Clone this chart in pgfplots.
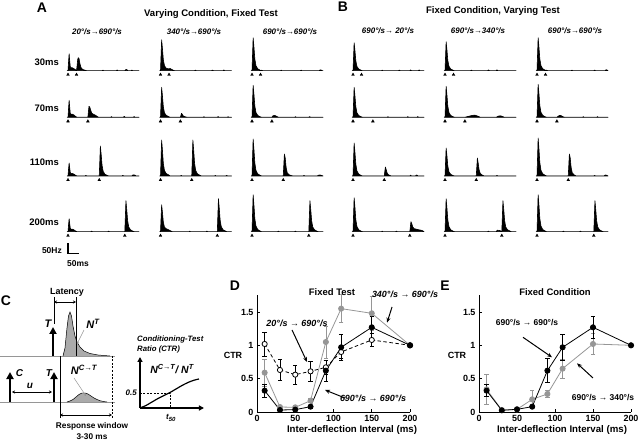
\documentclass[border=0pt]{standalone}
\usepackage{fontspec}
\setmainfont{Liberation Sans}
\usepackage{pgfplots}
\pgfplotsset{compat=1.18}
\usetikzlibrary{arrows.meta}
\definecolor{mgray}{RGB}{150,150,150}
\definecolor{fgray}{RGB}{170,170,170}
\newcommand{\fs}[1]{\fontsize{#1}{#1}\selectfont}
\pgfplotsset{
  psth/.style={scale only axis, width=71bp, height=40bp, xmin=0, xmax=250, ymin=0, ymax=40, hide axis, clip=false, anchor=south west},
  hist/.style={fill=black, draw=black, line width=0.6pt, line join=round},
  tri/.style={only marks, mark=triangle*, mark size=1.6bp, black},
  ctr/.style={scale only axis, width=153bp, height=116.7bp, anchor=south west,
    xmin=0, xmax=200, ymin=0, ymax=1.75, axis x line*=bottom, axis y line*=left,
    xtick={0,50,100,150,200}, ytick={0,0.5,1,1.5}, yticklabels={0,0.5,1,1.5},
    tick align=inside, major tick length=3bp, axis line style={line width=0.7pt},
    tick style={line width=0.7pt, black},
    ticklabel style={font=\bfseries\fs{9}}, /pgf/number format/assume math mode=true,
    clip=false},
  sblk/.style={black, line width=0.8pt, mark=*, mark size=2.6bp, mark options={solid, fill=black, draw=black},
    error bars/y dir=both, error bars/y explicit, error bars/error bar style={black, line width=0.6pt, solid},
    error bars/error mark options={rotate=90, black, mark size=2.2bp, line width=0.6pt}},
  sgry/.style={mgray, line width=0.8pt, mark=*, mark size=2.6bp, mark options={solid, fill=mgray, draw=mgray},
    error bars/y dir=both, error bars/y explicit, error bars/error bar style={mgray, line width=0.6pt, solid},
    error bars/error mark options={rotate=90, mgray, mark size=2.2bp, line width=0.6pt}},
  sopn/.style={black, line width=0.8pt, dash pattern=on 3.5bp off 2.5bp, mark=*, mark size=2.6bp, mark options={solid, fill=white, draw=black},
    error bars/y dir=both, error bars/y explicit, error bars/error bar style={black, line width=0.6pt, solid},
    error bars/error mark options={rotate=90, black, mark size=2.2bp, line width=0.6pt}},
  annarrow/.style={black, line width=1bp, -{Stealth[length=5bp,width=4bp]}},
}
\newcommand{\psth}[4]{%
\begin{axis}[psth, at={(#1bp,#2bp)}]
\addplot[hist] coordinates {(-3,0) #4} \closedcycle;
\addplot[tri] coordinates {(0,-4) (#3,-4)};
\end{axis}}
\begin{document}
\begin{tikzpicture}
\useasboundingbox (0,0) rectangle (640bp,443bp);
% ---------------- Panel A ----------------
\psth{68}{372.3}{30}{(0,0)(2,9)(4,17)(6,10)(8,4)(10,3)(14,3)(20,2.2)(26,1)(30,0)(32,5)(34,11)(36,13)(39,12)(42,7)(46,3)(52,1.2)(60,0.5)(66,0)(120,0)(123,0.6)(126,0)(170,0)(173,0.8)(176,0)(200,0)(203,1)(207,1.2)(211,0)(222,0)(225,0.7)(228,0)(250,0)}
\psth{68}{325.7}{70}{(0,0)(2,9)(4,17)(6,10)(8,4)(10,3)(14,3.2)(20,2.5)(26,1)(32,0)(70,0)(72,6)(74,11)(77,10)(80,7)(84,4)(90,3)(96,2.2)(102,1)(108,0)(150,0)(153,0.7)(156,0)(195,0)(198,0.9)(202,0)(230,0)(233,0.8)(236,0)(250,0)}
\psth{68}{267}{110}{(0,0)(2,7)(4,13)(6,8)(8,3.5)(10,2.5)(14,2.6)(20,2)(26,0.8)(32,0)(60,0)(63,0.6)(66,0)(110,0)(112,15)(114,30)(117,21)(120,10.5)(124,4.5)(130,1.8)(138,0.6)(144,0)(190,0)(193,0.7)(196,0)(225,0)(228,1)(232,1.2)(236,0.8)(240,0)(250,0)}
\begin{axis}[psth, at={(68bp,211.3bp)}]
\addplot[hist] coordinates {(-3,0)(0,0)(2,7)(4,13)(6,8)(8,3.5)(10,2.5)(14,2.6)(20,2)(26,0.8)(32,0)(80,0)(83,0.6)(86,0)(140,0)(143,0.6)(146,0)(200,0)(202,15.5)(204,31)(207,21.7)(210,10.9)(214,4.7)(220,1.9)(228,0.6)(234,0)(250,0)} \closedcycle;
\addplot[tri] coordinates {(0,-4) (200,-4)};
\addplot[black, line width=1.2pt] coordinates {(0,-11.5)(0,-21.5)(37,-21.5)};
\end{axis}
\psth{160.5}{372.3}{30}{(0,0)(2,15.5)(4,31)(7,21.7)(10,10.9)(14,5)(20,2.5)(26,2)(30,1.8)(34,2.2)(38,1.5)(44,0.6)(50,0)(120,0)(123,0.6)(126,0)(180,0)(183,0.7)(186,0)(220,0)(223,0.8)(226,0)(250,0)}
\psth{160.5}{325.7}{70}{(0,0)(2,15)(4,30)(7,21)(10,10.5)(14,4.5)(20,2)(28,0.8)(34,0)(70,0)(72,2)(74,4)(77,2.8)(80,1.4)(86,0.6)(94,0)(150,0)(153,0.6)(156,0)(200,0)(203,0.8)(206,0)(235,0)(238,0.6)(241,0)(250,0)}
\psth{160.5}{267}{110}{(0,0)(2,18)(4,36)(7,25.2)(10,12.6)(14,5.4)(20,2.5)(28,1.2)(34,0)(70,0)(73,0.6)(76,0)(110,0)(112,18)(114,36)(117,25.2)(120,12.6)(124,5.4)(130,2.2)(138,0.8)(144,0)(190,0)(193,0.6)(196,0)(230,0)(233,0.7)(236,0)(250,0)}
\psth{160.5}{211.3}{200}{(0,0)(2,13.5)(4,27)(7,18.9)(10,9.5)(14,4.5)(20,3)(28,2)(36,0.8)(42,0)(100,0)(103,0.6)(106,0)(160,0)(163,0.7)(166,0)(200,0)(202,16.5)(204,33)(207,23.1)(210,11.6)(214,5)(220,2)(228,0.8)(234,0)(250,0)}
\psth{252}{372.3}{30}{(0,0)(2,16.5)(4,33)(7,23.1)(10,11.6)(14,5)(20,2)(28,0.6)(32,0)(34,0.5)(38,0)(100,0)(103,0.5)(106,0)(170,0)(173,0.6)(176,0)(236,0)(240,0.8)(244,0.6)(248,0)(250,0)}
\psth{252}{325.7}{70}{(0,0)(2,16)(4,32)(7,22.4)(10,11.2)(14,4.8)(20,1.9)(28,0.6)(34,0)(70,0)(74,1.5)(80,2)(86,1)(94,0)(150,0)(153,0.6)(156,0)(200,0)(203,0.7)(206,0)(250,0)}
\psth{252}{267}{110}{(0,0)(2,18.5)(4,37)(7,25.9)(10,13)(14,5.6)(20,2.2)(28,0.8)(34,0)(110,0)(112,11)(114,22)(117,18)(120,9)(124,3.3)(130,1.3)(138,0.5)(144,0)(180,0)(183,0.6)(186,0)(230,0)(234,0.9)(240,1)(246,0.5)(250,0)}
\psth{252}{211.3}{200}{(0,0)(2,18.5)(4,37)(7,25.9)(10,13)(14,5.6)(20,2.2)(28,0.8)(34,0)(90,0)(93,0.6)(96,0)(150,0)(153,0.6)(156,0)(200,0)(202,15.5)(204,31)(207,21.7)(210,10.9)(214,4.7)(220,1.9)(228,0.6)(234,0)(250,0)}
% ---------------- Panel B ----------------
\psth{353}{372.3}{30}{(0,0)(2,14)(4,28)(7,19.6)(10,9.8)(14,4.2)(20,1.7)(28,0.5)(34,0)(100,0)(103,0.5)(106,0)(160,0)(163,0.7)(166,0)(200,0)(203,0.8)(206,0)(230,0)(233,0.8)(236,0)(250,0)}
\psth{353}{325.7}{70}{(0,0)(2,15)(4,30)(7,21)(10,10.5)(14,4.5)(20,1.8)(28,0.6)(34,0)(120,0)(123,0.6)(126,0)(190,0)(193,0.7)(196,0)(225,0)(228,0.8)(231,0)(250,0)}
\psth{353}{267}{110}{(0,0)(2,16.5)(4,33)(7,23.1)(10,11.6)(14,5)(20,2)(28,0.6)(34,0)(110,0)(112,4.5)(114,9)(117,6.3)(120,3.2)(124,1.4)(130,0.5)(136,0)(200,0)(203,0.8)(206,0)(220,0)(223,1)(226,0.8)(229,0)(250,0)}
\psth{353}{211.3}{200}{(0,0)(2,17)(4,34)(7,23.8)(10,11.9)(14,5.1)(20,2)(28,0.6)(34,0)(100,0)(103,0.6)(106,0)(150,0)(153,0.6)(156,0)(200,0)(202,5)(204,10)(207,8)(210,5)(215,3)(222,2.6)(230,2)(238,1.6)(245,1)(250,0)}
\psth{445}{372.3}{30}{(0,0)(2,14.5)(4,29)(7,20.3)(10,10.2)(14,4.4)(20,1.7)(28,0.5)(34,0)(90,0)(93,0.6)(96,0)(150,0)(153,0.8)(156,0)(180,0)(183,0.9)(186,0)(250,0)}
\psth{445}{325.7}{70}{(0,0)(2,15.5)(4,31)(7,21.7)(10,10.9)(14,4.7)(20,1.9)(28,0.6)(34,0)(70,0)(80,0.8)(95,1.8)(105,2.2)(115,1.2)(125,0)(180,0)(188,1.2)(196,1.5)(204,0.6)(210,0)(250,0)}
\psth{445}{267}{110}{(0,0)(2,14)(4,28)(7,19.6)(10,9.8)(14,4.2)(20,1.7)(28,0.5)(34,0)(110,0)(112,9)(114,18)(117,12.6)(120,6.3)(124,2.7)(130,1.1)(138,0)(180,0)(183,0.6)(186,0)(250,0)}
\psth{445}{211.3}{200}{(0,0)(2,16.5)(4,33)(7,23.1)(10,11.6)(14,5)(20,2)(28,0.6)(34,0)(150,0)(153,0.6)(156,0)(180,0)(184,1.5)(192,1.2)(198,0.5)(200,0)(202,15.5)(204,31)(207,21.7)(210,10.9)(214,4.7)(220,1.9)(228,0.8)(234,0)(250,0)}
\psth{537}{372.3}{30}{(0,0)(2,16.5)(4,33)(7,23.1)(10,11.6)(14,5)(20,2)(28,0.6)(34,0.5)(38,0)(120,0)(123,0.6)(126,0)(200,0)(203,0.7)(206,0)(240,0)(243,1)(247,0.6)(250,0)}
\psth{537}{325.7}{70}{(0,0)(2,16.5)(4,33)(7,23.1)(10,11.6)(14,5)(20,2)(28,0.6)(34,0)(70,0)(74,1)(80,2)(86,1.5)(92,0.5)(98,0)(160,0)(163,0.6)(166,0)(210,0)(213,0.7)(216,0)(250,0)}
\psth{537}{267}{110}{(0,0)(2,19)(4,38)(7,26.6)(10,13.3)(14,5.7)(20,2.3)(28,0.8)(34,0)(110,0)(112,11)(114,22)(117,18)(120,9)(124,3.3)(130,1.3)(138,0)(200,0)(203,0.6)(206,0)(236,0)(240,1)(245,0.8)(250,0)}
\psth{537}{211.3}{200}{(0,0)(2,18.5)(4,37)(7,25.9)(10,13)(14,5.6)(20,2.2)(28,0.8)(34,0)(90,0)(93,0.6)(96,0)(150,0)(153,0.6)(156,0)(200,0)(202,15.5)(204,31)(207,21.7)(210,10.9)(214,4.7)(220,1.9)(228,0.6)(234,0)(250,0)}
% ---------------- Panel C ----------------
\begin{axis}[scale only axis, width=230bp, height=163bp, at={(0bp,0bp)}, anchor=south west, xmin=0, xmax=230, ymin=0, ymax=163, hide axis, clip=false]
\addplot[mgray, line width=0.8pt] coordinates {(0,87)(115,87)};
\addplot[mgray, line width=0.8pt] coordinates {(0,41)(115,41)};
\addplot[fill=fgray, draw=black, line width=0.5pt] coordinates {(63,87)(65,95)(67,115)(68.5,127)(70,131)(71.5,127)(73,117)(75,107)(77,101)(80,96)(84,92)(90,89.5)(98,88)(110,87)};
\addplot[fill=fgray, draw=black, line width=0.5pt] coordinates {(67,41)(70,42)(73,43.5)(76,46)(79,48.5)(82,50)(85,50)(88,49)(91,47)(94,45)(97,43.5)(100,42.3)(104,41.4)(107,41)};
\addplot[black, line width=0.5pt] coordinates {(76,87)(76,146)};
\addplot[black, line width=0.5pt] coordinates {(54,146)(54,119)};
\addplot[black, line width=0.6pt, {Stealth[length=3bp,width=3bp]}-{Stealth[length=3bp,width=3bp]}] coordinates {(54,141)(76,141)};
\addplot[black, line width=2bp, -{Triangle[length=7bp,width=7bp]}] coordinates {(53,87)(53,116)};
\addplot[black, line width=2bp, -{Triangle[length=7bp,width=7bp]}] coordinates {(10,41)(10,71)};
\addplot[black, line width=2bp, -{Triangle[length=7bp,width=7bp]}] coordinates {(54,41)(54,71)};
\addplot[black, line width=0.6pt, {Stealth[length=3bp,width=3bp]}-{Stealth[length=3bp,width=3bp]}] coordinates {(12,51)(52,51)};
\addplot[black, line width=0.5pt] coordinates {(60,87)(60,25)};
\addplot[black, line width=0.5pt, dash pattern=on 2bp off 1.5bp] coordinates {(112,87)(112,25)};
\addplot[black, line width=0.6pt, {Stealth[length=3bp,width=3bp]}-{Stealth[length=3bp,width=3bp]}] coordinates {(60,28)(112,28)};
\addplot[mgray, line width=0.5pt, -{Stealth[length=2.5bp,width=2.5bp]}] coordinates {(84,113)(77,99)};
\addplot[mgray, line width=0.5pt, -{Stealth[length=2.5bp,width=2.5bp]}] coordinates {(74,65)(86,47)};
\addplot[black, line width=1.2bp, -{Triangle[length=5bp,width=5bp]}] coordinates {(140,35)(140,86)};
\addplot[black, line width=1.2bp, -{Triangle[length=5bp,width=5bp]}] coordinates {(140,35)(204,35)};
\addplot[black, line width=1.2bp, smooth] coordinates {(141,35.5)(146,37.5)(152,41)(158,44.5)(164,47.5)(170,50.5)(176,54)(182,57.5)(188,60.5)(194,62.8)(199,64)};
\addplot[black, line width=0.5pt, dash pattern=on 2bp off 1.5bp] coordinates {(140,50)(170,50)(170,35)};
\end{axis}
% ---------------- Panel D ----------------
\begin{axis}[ctr, at={(257bp,31bp)}]
\addplot[sgry] coordinates {(10,0.59) +- (0,0.2) (30,0.075) +- (0,0.02) (50,0.07) +- (0,0.02) (70,0.17) +- (0,0.03) (90,1.05) +- (0,0.24) (110,1.55) +- (0,0.21) (150,1.48) +- (0,0.26) (200,1) +- (0,0)};
\addplot[sopn] coordinates {(10,1.02) +- (0,0.18) (30,0.63) +- (0,0.16) (50,0.56) +- (0,0.14) (70,0.61) +- (0,0.15) (90,0.67) +- (0,0.11) (110,0.9) +- (0,0.1) (150,1.08) +- (0,0.1) (200,1) +- (0,0)};
\addplot[sblk] coordinates {(10,0.32) +- (0,0.1) (30,0.03) +- (0,0.01) (50,0.035) +- (0,0.01) (70,0.08) +- (0,0.02) (90,0.62) +- (0,0.16) (110,0.97) +- (0,0.19) (150,1.27) +- (0,0.16) (200,1) +- (0,0)};
\addplot[annarrow] coordinates {(176.5,1.575)(170,1.34)};
\addplot[annarrow] coordinates {(45.8,1.23)(65.4,0.75)};
\addplot[annarrow] coordinates {(115,0.21)(88.9,0.33)};
\end{axis}
% ---------------- Panel E ----------------
\begin{axis}[ctr, width=152bp, at={(479bp,31bp)}]
\addplot[sgry] coordinates {(10,0.34) +- (0,0.22) (30,0.03) +- (0,0.01) (50,0.04) +- (0,0.01) (70,0.19) +- (0,0.14) (90,0.27) +- (0,0.05) (110,0.65) +- (0,0.14) (150,1.02) +- (0,0.16) (200,1) +- (0,0)};
\addplot[sblk] coordinates {(10,0.32) +- (0,0.09) (30,0.025) +- (0,0.01) (50,0.04) +- (0,0.01) (70,0.08) +- (0,0.02) (90,0.62) +- (0,0.18) (110,0.97) +- (0,0.19) (150,1.27) +- (0,0.17) (200,1) +- (0,0)};
\addplot[annarrow] coordinates {(57.9,1.12)(96.1,0.82)};
\addplot[annarrow] coordinates {(150,0.51)(129,0.73)};
\end{axis}
% ---------------- Texts ----------------
\node[font=\bfseries\fs{14}] at (42bp,435bp) {A};
\node[font=\bfseries\fs{14}] at (343bp,436bp) {B};
\node[font=\bfseries\fs{9.6}] at (211bp,428.5bp) {Varying Condition, Fixed Test};
\node[font=\bfseries\fs{9.6}] at (493bp,432bp) {Fixed Condition, Varying Test};
\begin{scope}[every node/.style={font=\bfseries\itshape\fs{8}, inner sep=0pt}]
\node at (97bp,411bp) {20°/s→690°/s};
\node at (194bp,411bp) {340°/s→690°/s};
\node at (290bp,411bp) {690°/s→690°/s};
\node at (388bp,412bp) {690°/s→ 20°/s};
\node at (478bp,412bp) {690°/s→340°/s};
\node at (575bp,412bp) {690°/s→690°/s};
\end{scope}
\begin{scope}[every node/.style={font=\bfseries\fs{9.5}, anchor=east, inner sep=0pt}]
\node at (59bp,381bp) {30ms};
\node at (59bp,335bp) {70ms};
\node at (59bp,281bp) {110ms};
\node at (59bp,221bp) {200ms};
\end{scope}
\node[font=\bfseries\fs{8.5}, anchor=east, inner sep=0pt] at (62bp,192bp) {50Hz};
\node[font=\bfseries\fs{8.5}, inner sep=0pt] at (78bp,179bp) {50ms};
% C texts
\node[font=\bfseries\fs{14}] at (6bp,142bp) {C};
\node[font=\bfseries\fs{9}] at (67bp,151bp) {Latency};
\node[font=\bfseries\itshape\fs{11}] at (48bp,119bp) {T};
\node[font=\bfseries\itshape\fs{11}] at (93bp,119bp) {N\textsuperscript{T}};
\node[font=\bfseries\itshape\fs{10}] at (19.5bp,70bp) {C};
\node[font=\bfseries\itshape\fs{10}] at (49bp,70bp) {T};
\node[font=\bfseries\itshape\fs{10}] at (30bp,57bp) {u};
\node[font=\bfseries\itshape\fs{11}] at (84bp,73bp) {N\textsuperscript{C→T}};
\node[font=\bfseries\fs{8.3}] at (92bp,16.5bp) {Response window};
\node[font=\bfseries\fs{8.3}] at (92bp,6bp) {3-30 ms};
\node[font=\bfseries\itshape\fs{7.8}, anchor=west, inner sep=0pt] at (137bp,104bp) {Conditioning-Test};
\node[font=\bfseries\itshape\fs{7.8}, anchor=west, inner sep=0pt] at (137bp,94bp) {Ratio (CTR)};
\node[font=\bfseries\itshape\fs{10.5}] at (172bp,74bp) {N\textsuperscript{C→T}/ N\textsuperscript{T}};
\node[font=\bfseries\itshape\fs{8}, anchor=east, inner sep=1pt] at (138bp,50bp) {0.5};
\node[font=\bfseries\itshape\fs{8}] at (171bp,25bp) {t\textsubscript{50}};
% D texts
\node[font=\bfseries\fs{14}] at (235bp,157bp) {D};
\node[font=\bfseries\fs{9.5}] at (332bp,151bp) {Fixed Test};
\node[font=\bfseries\itshape\fs{9}] at (405bp,149bp) {340°/s → 690°/s};
\node[font=\bfseries\itshape\fs{9}] at (297bp,120bp) {20°/s → 690°/s};
\node[font=\bfseries\itshape\fs{9}] at (373bp,45bp) {690°/s → 690°/s};
\node[font=\bfseries\fs{9}] at (233bp,88bp) {CTR};
\node[font=\bfseries\fs{9.7}] at (352bp,13bp) {Inter-deflection Interval (ms)};
% E texts
\node[font=\bfseries\fs{14}] at (445bp,157bp) {E};
\node[font=\bfseries\fs{9.5}] at (555bp,151bp) {Fixed Condition};
\node[font=\bfseries\fs{8.5}] at (527bp,120bp) {690°/s → 690°/s};
\node[font=\bfseries\fs{8.5}] at (603bp,45bp) {690°/s → 340°/s};
\node[font=\bfseries\fs{9}] at (457bp,88bp) {CTR};
\node[font=\bfseries\fs{9.7}] at (562bp,13bp) {Inter-deflection Interval (ms)};
\end{tikzpicture}
\end{document}
